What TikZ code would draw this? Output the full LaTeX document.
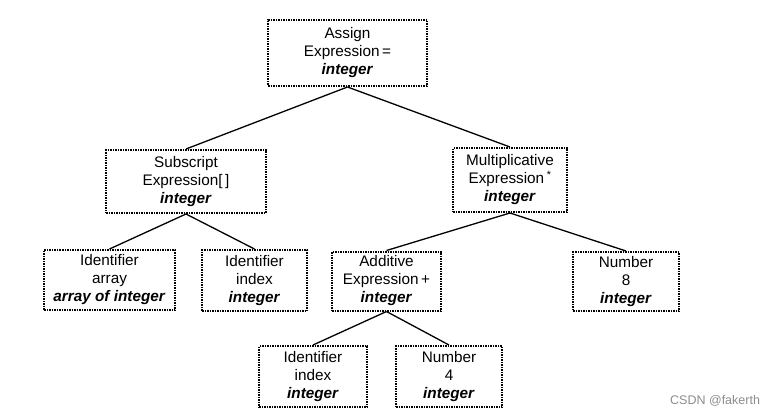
\documentclass[tikz,border=0pt]{standalone}
\usepackage{fontspec}
\setmainfont{Liberation Sans}
\begin{document}
\begin{tikzpicture}[x=1pt,y=-1pt,
  box/.style={draw=black, line width=2pt, dash pattern=on 1.5pt off 1pt,
    inner sep=0pt, align=center, font=\fontsize{15.3}{18}\selectfont},
  edge/.style={draw=black, line width=1.3pt}]
\useasboundingbox (0,0) rectangle (773,414);
\newcommand{\ty}[1]{\textbf{\textit{#1}}}
\node[box, minimum width=159pt, minimum height=66pt] (assign) at (347.5,53) {Assign\\Expression\,=\\\ty{integer}};
\node[box, minimum width=160pt, minimum height=63pt] (sub) at (186,181.5) {Subscript\\Expression[\,]\\\ty{integer}};
\node[box, minimum width=114pt, minimum height=64pt] (mult) at (510,180) {Multiplicative\\Expression\,\textsuperscript{*}\\\ty{integer}};
\node[box, minimum width=131pt, minimum height=60pt] (ida) at (109.5,280) {Identifier\\array\\\ty{array of integer}};
\node[box, minimum width=105pt, minimum height=61pt] (idi) at (254.5,280.5) {Identifier\\index\\\ty{integer}};
\node[box, minimum width=109pt, minimum height=59pt] (add) at (386.5,281) {Additive\\Expression\,+\\\ty{integer}};
\node[box, minimum width=106pt, minimum height=59pt] (num8) at (626,281.5) {Number\\8\\\ty{integer}};
\node[box, minimum width=108pt, minimum height=61pt] (idi2) at (313,376.5) {Identifier\\index\\\ty{integer}};
\node[box, minimum width=106pt, minimum height=61pt] (num4) at (449,376.5) {Number\\4\\\ty{integer}};
\draw[edge] (assign.south) -- (sub.north);
\draw[edge] (assign.south) -- (mult.north);
\draw[edge] (sub.south) -- (ida.north);
\draw[edge] (sub.south) -- (idi.north);
\draw[edge] (mult.south) -- (add.north);
\draw[edge] (mult.south) -- (num8.north);
\draw[edge] (add.south) -- (idi2.north);
\draw[edge] (add.south) -- (num4.north);
\node[anchor=base west, inner sep=0pt, text=black!45, font=\fontsize{12.5}{14}\selectfont] (wm) at (670,404) {CSDN @fakerth};
\end{tikzpicture}
\end{document}
